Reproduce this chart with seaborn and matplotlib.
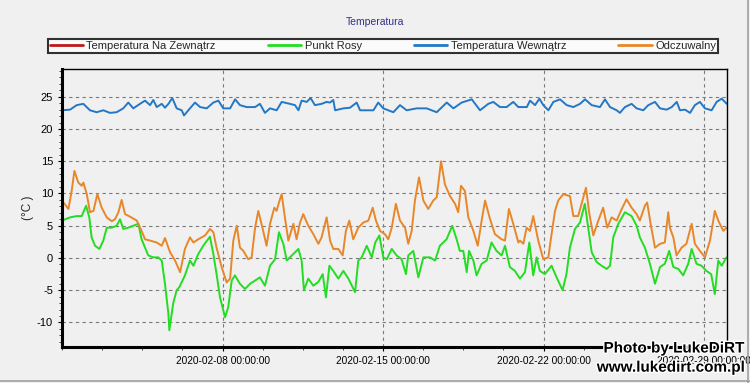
import numpy as np
import pandas as pd
import seaborn as sns
import matplotlib.pyplot as plt
import matplotlib.dates as mdates
import matplotlib.patheffects as pe
from matplotlib.ticker import FixedLocator, MultipleLocator
from matplotlib.lines import Line2D

# series, time in days since 2020-02-01 00:00
start = pd.Timestamp('2020-02-01')

outdoor_days = []
outdoor_temp = []

inside_days = [0.0, 0.35, 0.64, 0.93, 1.22, 1.51, 1.80, 2.09, 2.38, 2.67, 2.89, 3.11, 3.40, 3.62,
               3.84, 3.98, 4.13, 4.35, 4.49, 4.64, 4.81, 5.00, 5.22, 5.32, 5.58, 5.80, 6.02, 6.31,
               6.60, 6.82, 7.03, 7.33, 7.55, 7.76, 8.05, 8.42, 8.63, 8.85, 9.07, 9.36, 9.58, 9.94,
               10.16, 10.31, 10.45, 10.67, 10.84, 11.03, 11.32, 11.54, 11.69, 11.83, 11.91, 12.27,
               12.56, 12.85, 13.00, 13.29, 13.58, 13.79, 14.01, 14.45, 14.74, 15.03, 15.47, 15.90,
               16.34, 16.78, 17.07, 17.43, 17.87, 18.23, 18.59, 18.81, 19.10, 19.39, 19.68, 19.90,
               20.27, 20.41, 20.63, 20.82, 20.99, 21.21, 21.43, 21.72, 22.01, 22.30, 22.59, 22.81,
               23.10, 23.46, 23.68, 23.90, 24.19, 24.33, 24.55, 24.84, 25.06, 25.35, 25.57, 25.86,
               26.08, 26.37, 26.59, 26.81, 26.95, 27.17, 27.39, 27.60, 27.82, 28.04, 28.33, 28.55,
               28.77, 28.99]
inside_temp = [22.9, 23.0, 23.7, 23.9, 22.9, 22.6, 22.9, 22.5, 22.6, 23.2, 24.1, 23.2, 23.9, 24.4,
               23.7, 24.5, 23.4, 23.9, 23.3, 23.9, 24.8, 23.2, 22.9, 22.1, 23.2, 24.1, 23.4, 23.2,
               24.1, 24.4, 23.2, 23.2, 24.6, 23.7, 23.4, 23.4, 23.9, 22.5, 23.2, 22.9, 24.2, 23.9,
               23.7, 22.9, 24.4, 24.2, 24.8, 23.7, 23.9, 24.2, 24.1, 24.5, 22.9, 23.2,
               23.3, 24.1, 22.9, 22.9, 22.9, 24.1, 23.2, 22.6, 23.7, 22.9, 23.2, 23.2,
               22.6, 24.1, 23.2, 24.1, 24.6, 22.9, 23.9, 24.2, 23.4, 23.4, 24.2, 23.4,
               23.4, 24.4, 23.7, 24.7, 23.7, 22.9, 24.2, 24.6, 23.7, 23.4, 23.9, 24.6,
               23.7, 23.4, 24.6, 23.4, 22.9, 22.5, 23.4, 23.9, 23.2, 22.9, 23.7, 24.2,
               23.2, 23.0, 23.4, 24.2, 22.9, 23.0, 22.5, 23.7, 24.2, 23.2, 22.9, 24.2,
               24.7, 23.9]

dew_days = [0.0, 0.35, 0.64, 0.86, 1.05, 1.19, 1.29, 1.44, 1.63, 1.80, 1.95, 2.17, 2.38, 2.53,
            2.67, 2.89, 3.11, 3.33, 3.47, 3.62, 3.76, 3.98, 4.20, 4.35, 4.49, 4.64, 4.68, 4.85,
            5.00, 5.12, 5.36, 5.58, 5.73, 5.94, 6.16, 6.45, 6.60, 6.74, 6.89, 7.11, 7.25, 7.40,
            7.54, 7.76, 7.98, 8.20, 8.42, 8.63, 8.85, 9.07, 9.29, 9.46, 9.65, 9.80, 9.94, 10.16,
            10.31, 10.45, 10.55, 10.74, 10.96, 11.18, 11.37, 11.51, 11.66, 11.83, 12.05, 12.27,
            12.49, 12.78, 12.92, 13.07, 13.29, 13.51, 13.66, 13.84, 14.01, 14.16, 14.38, 14.59,
            14.81, 15.00, 15.10, 15.32, 15.54, 15.76, 16.05, 16.27, 16.48, 16.77, 17.02, 17.21,
            17.35, 17.50, 17.65, 17.75, 17.94, 18.08, 18.30, 18.52, 18.73, 18.95, 19.17, 19.32,
            19.53, 19.75, 19.97, 20.19, 20.38, 20.55, 20.70, 20.84, 21.06, 21.35, 21.57, 21.83,
            22.00, 22.15, 22.37, 22.59, 22.80, 22.95, 23.10, 23.31, 23.53, 23.75, 23.90, 24.04,
            24.26, 24.55, 24.84, 25.06, 25.20, 25.42, 25.64, 25.86, 26.08, 26.29, 26.48, 26.66,
            26.88, 27.09, 27.31, 27.46, 27.67, 27.89, 28.10, 28.31, 28.47, 28.62, 28.77, 28.98]
dew_temp = [5.8, 6.3, 6.5, 6.5, 8.1, 6.3, 3.2, 1.9, 1.4, 2.7, 4.7, 4.7, 5.0, 6.0,
            4.5, 4.7, 5.0, 5.3, 2.9, 1.6, 0.4, 0.1, 0.1, -0.4, -4.0, -8.7, -11.2, -7.0,
            -5.0, -4.5, -2.7, -0.4, -1.2, 0.6, 1.9, 3.3, 0.6, -2.5, -6.1, -9.2, -7.6, -3.5,
            -2.7, -4.0, -4.8, -4.0, -3.5, -3.0, -4.3, -1.2, -0.2, 4.0, 2.2, -0.4, 0.1, 0.9,
            1.4, -0.4, -5.0, -3.2, -4.3, -3.7, -2.5, -6.1, -1.2, -2.0, -3.2, -2.0,
            -3.2, -5.3, -0.4, 0.1, 1.9, 0.1, 2.4, 3.5, 0.1, -0.2, 1.4, 0.4,
            -0.2, -2.5, 0.4, 1.1, -3.0, 0.1, 0.1, -0.4, 1.9, 2.9, 5.0, 2.9,
            1.1, 1.1, -2.2, 1.1, -0.4, -2.7, -0.9, -0.4, 2.4, 1.1, 0.4, 1.9,
            -1.4, -2.0, -3.2, -2.2, 2.4, -2.7, 0.1, -2.0, -2.5, -1.2, -3.0, -5.0,
            -2.5, 1.6, 4.5, 5.5, 8.4, 4.7, 0.9, -0.6, -1.2, -1.7, -1.2, 3.2,
            5.3, 7.1, 6.5, 5.0, 3.2, 1.6, -0.9, -4.0, -1.4, -0.9, 1.1, -1.4,
            -1.7, -2.7, -0.9, 1.4, -0.9, -1.2, -2.0, -2.5, -5.6, -0.4, -1.2, 0.1]

felt_days = [0.0, 0.28, 0.42, 0.54, 0.71, 0.86, 0.93, 1.08, 1.22, 1.37, 1.54, 1.73, 1.95, 2.17,
             2.31, 2.46, 2.60, 2.75, 2.97, 3.26, 3.47, 3.62, 3.84, 4.13, 4.35, 4.49, 4.71, 4.93,
             5.15, 5.36, 5.58, 5.73, 5.94, 6.24, 6.45, 6.60, 6.74, 6.96, 7.18, 7.33, 7.47, 7.62,
             7.76, 7.91, 8.12, 8.27, 8.42, 8.56, 8.74, 8.92, 9.07, 9.26, 9.36, 9.46, 9.58, 9.72,
             9.87, 10.09, 10.23, 10.38, 10.52, 10.74, 10.96, 11.18, 11.32, 11.54, 11.69, 11.83,
             12.05, 12.24, 12.38, 12.53, 12.70, 12.92, 13.14, 13.36, 13.55, 13.69, 13.87, 14.08,
             14.23, 14.38, 14.56, 14.74, 14.96, 15.10, 15.25, 15.39, 15.57, 15.76, 15.97, 16.19,
             16.34, 16.53, 16.70, 16.92, 17.14, 17.28, 17.40, 17.57, 17.72, 17.94, 18.13, 18.30,
             18.45, 18.66, 18.88, 19.17, 19.32, 19.49, 19.68, 19.90, 19.97, 20.12, 20.26, 20.41,
             20.55, 20.77, 20.99, 21.21, 21.35, 21.50, 21.64, 21.86, 22.15, 22.30, 22.51, 22.66,
             22.85, 23.00, 23.17, 23.39, 23.60, 23.78, 23.97, 24.19, 24.41, 24.62, 24.84, 25.06,
             25.20, 25.42, 25.52, 25.67, 25.86, 26.08, 26.29, 26.44, 26.51, 26.66, 26.80, 27.02,
             27.23, 27.46, 27.60, 27.82, 28.04, 28.26, 28.47, 28.62, 28.84, 28.98]
felt_temp = [8.9, 7.6, 10.4, 13.5, 11.7, 11.2, 11.7, 9.9, 7.1, 7.3, 9.9, 7.8, 6.3, 5.7,
             6.0, 7.1, 9.0, 6.8, 6.4, 5.8, 4.2, 2.9, 2.7, 2.4, 1.9, 3.1, 0.9, -0.4,
             -2.2, 1.4, 3.2, 2.4, 2.9, 3.5, 4.5, 4.0, 1.6, -1.4, -3.8, -3.2, 2.7, 5.0,
             1.6, 1.1, -0.2, 0.1, 4.7, 7.3, 4.7, 1.9, 5.3, 7.8, 7.3, 8.6, 9.9, 6.3,
             2.7, 5.3, 2.9, 5.5, 6.8, 5.0, 3.7, 2.2, 3.2, 6.3, 2.7, 1.4,
             1.4, 0.4, 4.2, 5.8, 2.9, 4.7, 5.5, 5.8, 7.8, 5.8, 4.2, 3.7,
             2.9, 4.7, 8.4, 5.8, 4.7, 2.2, 4.2, 8.9, 12.5, 8.9, 7.6, 8.9,
             9.4, 15.0, 11.4, 9.6, 8.4, 7.1, 11.2, 10.4, 6.3, 4.2, 1.9, 5.8,
             8.9, 6.1, 3.7, 2.9, 2.7, 7.6, 5.3, 2.4, 2.7, 2.2, 4.7, 4.2,
             6.5, 2.7, -0.2, 0.1, 3.7, 7.3, 8.9, 9.9, 9.6, 6.5, 6.5, 8.4,
             10.9, 6.8, 3.5, 5.8, 7.8, 4.7, 6.3, 5.8, 7.6, 9.1, 7.8, 6.8,
             5.8, 8.1, 8.6, 5.3, 1.6, 2.2, 2.4, 7.1, 4.7, 3.2, 0.4, 1.6,
             2.2, 5.3, 2.2, 1.1, 0.1, 2.7, 7.3, 5.8, 4.2, 4.7]

labels = ['Temperatura Na Zewnątrz', 'Punkt Rosy', 'Temperatura Wewnątrz', 'Odczuwalny']
colors = ['#c01818', '#22dd22', '#2378c6', '#e8872a']


def to_dates(days):
    return start + pd.to_timedelta(np.array(days, dtype=float), unit='D')


sns.set_style('white')
plt.rcParams['font.family'] = ['Liberation Sans', 'DejaVu Sans']
plt.rcParams['axes.unicode_minus'] = False

bg = '#f0f0f0'
fig = plt.figure(figsize=(7.5, 3.83), dpi=100, facecolor=bg)
ax = fig.add_axes([0.0827, 0.094, 0.8866, 0.7258])
ax.set_facecolor(bg)

# outdoor series has no samples in the period, keep it for the legend
h_out, = ax.plot(to_dates(outdoor_days), outdoor_temp, color=colors[0], lw=1.4, label=labels[0])
sns.lineplot(x=to_dates(dew_days), y=dew_temp, ax=ax, color=colors[1], lw=1.4, label=labels[1])
sns.lineplot(x=to_dates(inside_days), y=inside_temp, ax=ax, color=colors[2], lw=1.4, label=labels[2])
sns.lineplot(x=to_dates(felt_days), y=felt_temp, ax=ax, color=colors[3], lw=1.4, label=labels[3])
handles, labs = ax.get_legend_handles_labels()
ax.get_legend().remove()

ax.set_xlim(start, pd.Timestamp('2020-03-01'))
ax.set_ylim(-13.8, 29.3)
ax.yaxis.set_major_locator(FixedLocator([-10, -5, 0, 5, 10, 15, 20, 25]))
ax.yaxis.set_minor_locator(MultipleLocator(1))
ax.xaxis.set_major_locator(mdates.DayLocator(bymonthday=[8, 15, 22, 29]))
ax.xaxis.set_major_formatter(mdates.DateFormatter('%Y-%m-%d %H:%M:%S'))
minor = pd.date_range('2020-02-01', '2020-03-01', freq='42h')
ax.xaxis.set_minor_locator(FixedLocator(mdates.date2num(minor)))

ax.grid(True, which='major', color='#7a7a7a', linestyle=(0, (3, 3)), linewidth=0.8)
ax.tick_params(axis='both', which='major', labelsize=8, length=3, width=0.8,
               direction='out', colors='black', left=True, bottom=True)
ax.tick_params(axis='x', which='major', labelsize=7.3)
ax.tick_params(axis='both', which='minor', length=2, width=0.6, direction='out',
               left=True, bottom=True)
ax.set_xlabel('')
ax.set_ylabel('(°C )', fontsize=8.5, labelpad=2)

for side in ['left', 'bottom']:
    ax.spines[side].set_linewidth(2.2)
for side in ['top', 'right']:
    ax.spines[side].set_linewidth(1.0)
for sp in ax.spines.values():
    sp.set_color('black')

fig.text(0.5, 0.942, 'Temperatura', ha='center', va='center', fontsize=7.5, color='#30308a')

leg = fig.legend(handles, labs, loc='center', bbox_to_anchor=(0.064, 0.859, 0.893, 0.042),
                 mode='expand', ncol=4, fontsize=8, frameon=True, fancybox=False,
                 handlelength=3.0, handletextpad=0.3, borderpad=0.15, borderaxespad=0)
leg.get_frame().set_edgecolor('black')
leg.get_frame().set_linewidth(1.5)
leg.get_frame().set_facecolor('white')
for line in leg.get_lines():
    line.set_linewidth(2)

# watermark sits over the last date label, as in the original
stroke = [pe.withStroke(linewidth=2, foreground='white')]
fig.text(0.993, 0.09, 'Photo by LukeDiRT', ha='right', va='center', fontsize=11,
         fontweight='bold', color='black', path_effects=stroke)
fig.text(0.994, 0.04, 'www.lukedirt.com.pl', ha='right', va='center', fontsize=11,
         fontweight='bold', color='black', path_effects=stroke)

fig.add_artist(Line2D([0.997, 0.997], [0.0, 1.0], transform=fig.transFigure, color='#a0a0a0', lw=1.2))
fig.add_artist(Line2D([0.0, 1.0], [0.006, 0.006], transform=fig.transFigure, color='#a0a0a0', lw=1.2))

fig.savefig('out.png', dpi=100, facecolor=bg)
